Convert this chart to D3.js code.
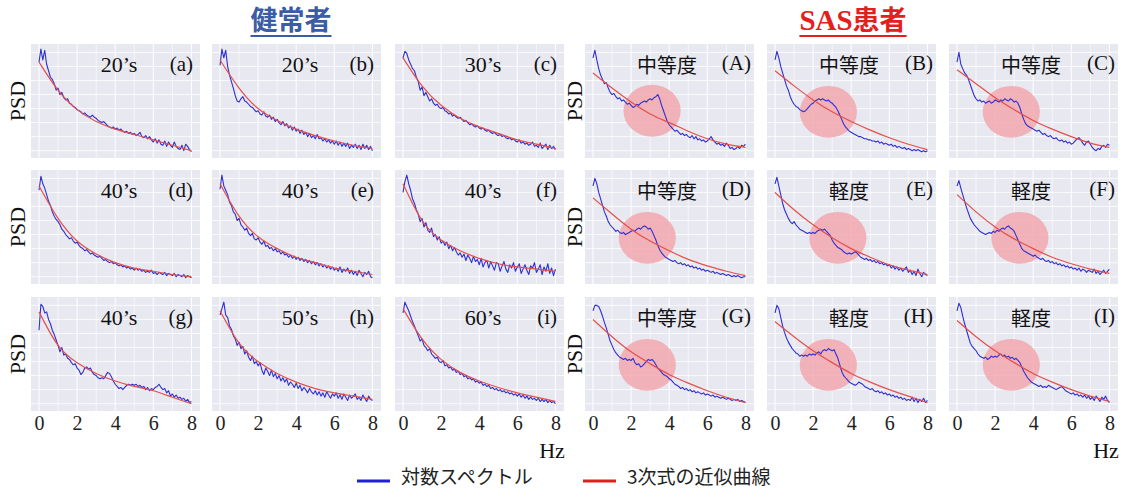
<!DOCTYPE html>
<html>
<head>
<meta charset="utf-8">
<script src="https://cdn.jsdelivr.net/npm/d3@7"></script>
<style>
body { margin: 0; background: #fff; }
</style>
</head>
<body>
<svg id="chart" width="1126" height="490"></svg>
<script>
// sampling grid of the spectra (Hz) and of the cubic fit
var freqs = d3.range(81).map(function (i) { return i / 10; });
var fitFreqs = [0, 1, 2, 3, 4, 5, 6, 7, 8];
var xTicks = [0, 2, 4, 6, 8];
var gridLevels = [4, 17, 30, 43, 56, 69, 82, 95];

var healthyLabels = ["(a)", "(b)", "(c)", "(d)", "(e)", "(f)", "(g)", "(h)", "(i)"];
var healthyAges = ["20’s", "20’s", "30’s", "40’s", "40’s", "40’s", "40’s", "50’s", "60’s"];
var sasLabels = ["(A)", "(B)", "(C)", "(D)", "(E)", "(F)", "(G)", "(H)", "(I)"];
var sasSeverity = ["中等度", "中等度", "中等度", "中等度", "軽度", "軽度", "中等度", "軽度", "軽度"];

// log spectra, 0..8 Hz every 0.1 Hz, in % of panel height
var spec_a = [86,98,88,97,84,78,72,70,66,60, 62,56,58,53,51,52,48,47,45,44, 42,41,40,38,39,37,36,35,37,35,
    34,32,31,30,31,29,27,26,25,26, 24,25,23,24,22,21,22,20,21,19, 20,18,19,21,17,16,18,15,17,14,
    12,15,11,14,10,9,13,8,12,9, 7,12,8,6,5,9,4,10,8,5, 3];
var spec_b = [83,98,90,97,82,74,68,62,55,50, 49,52,54,50,49,47,45,44,42,40, 41,38,37,40,36,35,37,33,35,31,
    33,30,28,31,27,29,25,27,23,26, 22,24,20,23,19,21,17,20,16,18, 15,19,15,16,13,15,12,14,11,13,
    10,13,9,12,8,11,8,11,6,9, 7,10,6,9,5,10,6,9,5,8, 4];
var spec_c = [90,96,94,88,84,80,78,72,68,60, 63,55,58,54,50,52,48,46,47,44, 43,44,41,40,38,39,36,37,35,34,
    35,33,31,32,30,28,29,27,26,27, 25,24,25,23,22,23,21,20,21,19, 18,19,17,18,16,15,16,14,15,13,
    12,14,11,12,10,11,9,10,12,8, 9,7,11,6,8,10,5,9,6,8, 5];
var spec_d = [84,97,90,86,80,74,70,64,60,57, 55,52,48,46,43,41,39,40,37,35, 36,33,31,30,28,29,27,25,26,24,
    23,22,23,21,19,20,18,17,18,16, 17,15,14,15,13,14,12,13,11,12, 10,12,10,11,9,10,8,9,8,10,
    7,8,6,8,7,6,8,5,7,6, 5,7,4,6,5,4,6,3,5,4, 3];
var spec_e = [85,98,88,84,80,73,70,64,62,56, 58,52,50,47,49,44,42,44,39,38, 40,36,34,37,32,33,30,31,28,30,
    27,28,25,27,24,25,22,24,21,23, 20,22,19,21,18,20,17,19,16,18, 15,17,14,16,13,15,12,14,11,13,
    10,12,9,13,8,11,9,12,7,10, 6,9,5,10,7,4,8,6,9,4, 3];
var spec_f = [82,92,98,90,84,76,72,66,62,55, 58,50,54,47,45,49,41,43,38,41, 35,37,33,36,30,33,28,31,27,24,
    26,22,25,19,24,21,17,23,18,20, 15,21,13,17,19,12,18,14,10,17, 16,9,14,18,11,8,15,12,17,9,
    13,16,7,11,15,10,6,14,12,17, 8,11,15,6,13,9,16,7,12,5, 11];
var spec_g = [72,96,94,88,89,82,78,72,68,63, 58,52,56,49,50,46,45,42,40,41, 37,35,31,33,37,38,36,37,33,31,
    30,28,27,28,27,30,33,32,29,25, 22,20,18,19,17,19,21,22,21,22, 21,22,20,21,19,20,17,19,16,18,
    17,19,20,22,19,17,18,14,16,11, 13,10,12,9,10,8,9,6,8,5, 6];
var spec_h = [86,92,98,86,84,76,73,67,64,58, 61,55,57,50,53,47,44,48,41,43, 39,42,35,31,37,34,30,35,29,32,
    27,30,25,28,24,27,21,24,22,19, 23,18,21,16,19,17,14,18,15,13, 16,12,15,11,14,10,15,12,9,13,
    11,14,9,12,8,13,10,7,12,9, 11,13,8,10,7,12,9,6,11,8, 7];
var spec_i = [88,98,94,90,85,80,76,71,67,62, 64,58,56,53,55,50,48,46,47,43, 42,44,39,40,37,38,35,36,33,34,
    31,32,29,30,27,28,26,27,24,25, 23,24,21,22,20,21,18,19,17,18, 16,17,15,16,14,15,13,14,12,13,
    11,13,10,12,9,11,8,10,8,9, 7,9,6,8,6,8,5,7,5,6, 4];

var spec_A = [90,97,88,80,74,70,66,67,62,58, 56,57,54,52,53,50,51,49,47,48, 46,44,45,47,46,48,49,50,49,51,
    52,51,53,54,56,52,46,41,36,31, 28,26,24,22,23,21,19,20,18,19, 17,16,18,15,17,14,15,13,14,12,
    13,15,17,14,12,10,11,9,10,8, 11,9,6,7,5,6,8,6,9,8, 10];
var spec_B = [88,96,90,82,76,70,64,60,54,50, 47,45,44,42,41,40,41,43,45,47, 48,50,51,52,51,52,51,50,51,49,
    48,46,44,41,37,33,29,26,24,22, 21,20,19,18,17,17,16,15,15,14, 14,13,13,12,13,11,12,10,11,10,
    9,10,8,9,7,8,7,6,7,5, 6,5,4,5,4,5,4,3,4,3, 4];
var spec_C = [86,95,84,80,76,74,70,65,60,55, 52,50,51,49,50,48,49,50,48,49, 51,50,49,51,50,52,51,50,52,51,
    49,50,48,44,38,33,29,27,26,25, 24,23,22,23,21,19,20,18,17,18, 16,15,16,14,13,14,12,13,11,12,
    10,11,13,15,16,14,11,9,12,13, 10,7,5,4,6,5,8,9,7,10, 9];
var spec_D = [88,95,90,82,76,70,64,60,55,52, 50,48,46,47,45,44,45,43,44,45, 46,47,46,48,49,48,50,51,50,48,
    49,46,42,38,33,29,26,24,22,21, 20,19,18,19,17,16,17,15,16,14, 15,13,14,12,13,11,12,10,11,9,
    10,9,8,9,7,8,7,6,7,6, 5,6,5,4,5,4,5,4,3,4, 4];
var spec_E = [90,96,88,80,72,66,62,58,55,53, 55,52,50,48,47,46,45,44,45,44, 45,44,46,47,48,47,48,46,44,42,
    38,35,33,31,30,29,27,26,25,26, 25,26,27,26,24,22,21,20,21,19, 20,18,19,17,18,16,17,15,16,14,
    15,12,14,11,13,10,12,9,11,13, 8,10,6,9,5,11,7,4,8,6, 5];
var spec_F = [88,93,86,80,74,68,63,58,55,52, 50,48,46,45,44,43,44,45,44,46, 45,47,46,48,49,48,50,51,49,48,
    46,42,38,34,30,28,27,26,25,24, 23,24,22,21,20,21,19,18,19,17, 18,16,17,15,16,14,15,13,14,12,
    13,11,12,10,12,9,11,10,8,10, 9,8,11,7,9,6,8,10,7,9, 11];
var spec_G = [90,95,95,94,90,85,79,74,68,62, 58,54,51,49,47,46,45,46,44,45, 44,46,42,40,41,38,39,41,43,45,
    44,45,43,40,37,35,33,31,30,29, 27,26,24,22,21,20,18,19,17,18, 16,17,15,16,14,15,14,13,14,12,
    13,12,11,12,10,11,10,9,10,9, 8,9,8,7,8,7,8,6,7,6, 5];
var spec_H = [88,95,92,84,76,70,65,61,58,55, 53,51,50,48,49,48,49,48,50,49, 50,49,51,52,50,53,54,53,55,54,
    53,54,50,46,40,34,30,28,26,24, 23,22,21,22,24,23,22,20,19,18, 17,18,16,15,16,14,15,13,14,12,
    13,11,12,10,11,9,10,8,9,7, 8,7,10,6,9,5,8,6,9,5, 7];
var spec_I = [90,97,93,85,78,72,66,60,57,55, 53,50,48,47,46,47,45,46,48,47, 48,47,49,50,48,49,47,48,46,47,
    45,46,44,42,38,34,31,28,26,24, 23,22,21,20,21,19,20,19,21,20, 19,18,17,18,19,20,18,16,15,14,
    13,14,12,13,11,12,10,12,9,11, 8,10,7,11,9,6,10,8,11,7, 5];

// cubic approximation curves at 0..8 Hz
var fit_a = [86, 60, 42, 31, 24, 19, 14, 9, 4];
var fit_b = [88, 62, 43, 32, 24, 18, 13, 9, 6];
var fit_c = [90, 64, 46, 34, 26, 20, 14, 10, 6];
var fit_d = [88, 58, 37, 25, 17, 12, 9, 6, 4];
var fit_e = [90, 60, 41, 30, 22, 17, 12, 9, 6];
var fit_f = [90, 56, 38, 28, 21, 16, 13, 11, 9];
var fit_g = [89, 58, 42, 32, 25, 20, 16, 10, 4];
var fit_h = [90, 60, 43, 32, 24, 18, 14, 11, 8];
var fit_i = [92, 64, 45, 33, 25, 19, 14, 10, 6];
var fit_A = [76, 62, 49, 38, 30, 22, 15, 10, 7];
var fit_B = [78, 64, 51, 40, 31, 23, 16, 10, 5];
var fit_C = [79, 66, 53, 42, 32, 24, 17, 11, 7];
var fit_D = [77, 62, 48, 37, 28, 20, 14, 9, 5];
var fit_E = [82, 66, 52, 40, 30, 22, 15, 10, 6];
var fit_F = [80, 64, 50, 39, 30, 22, 16, 11, 7];
var fit_G = [82, 66, 52, 41, 31, 23, 16, 10, 5];
var fit_H = [80, 66, 53, 42, 32, 24, 17, 11, 5];
var fit_I = [81, 66, 53, 42, 32, 24, 17, 11, 6];

// highlighted hump (SAS panels): centre in Hz / level, radii
var humpHz = [3.1, 2.8, 2.85, 2.85, 3.3, 3.3, 2.85, 2.8, 2.85];
var humpLevel = [41, 40, 40, 40, 40, 40, 40, 40, 40];
var humpRadiusHz = 1.5, humpRadiusLevel = 24;

var healthySpecs = [spec_a, spec_b, spec_c, spec_d, spec_e, spec_f, spec_g, spec_h, spec_i];
var healthyFits = [fit_a, fit_b, fit_c, fit_d, fit_e, fit_f, fit_g, fit_h, fit_i];
var sasSpecs = [spec_A, spec_B, spec_C, spec_D, spec_E, spec_F, spec_G, spec_H, spec_I];
var sasFits = [fit_A, fit_B, fit_C, fit_D, fit_E, fit_F, fit_G, fit_H, fit_I];

var svg = d3.select("#chart");
var serif = "'Liberation Serif', 'Times New Roman', serif";
var cjk = "'Noto Sans CJK JP', 'Noto Sans', sans-serif";

var groupCols = [[31, 212, 395], [585, 767, 949]];
var psdOffset = [6, 3];
var rowTop = [44, 170, 297];
var panelW = 169, panelH = 114;

var x = d3.scaleLinear().domain([-0.42, 8.45]).range([0, panelW]);
var y = d3.scaleLinear().domain([0, 100]).range([panelH - 3, 3]);

var specLine = d3.line()
    .x(function (d, i) { return x(freqs[i]); })
    .y(function (d) { return y(d); });
var fitLine = d3.line()
    .x(function (d, i) { return x(fitFreqs[i]); })
    .y(function (d) { return y(d); })
    .curve(d3.curveNatural);

var clipCount = 0;

function drawPanel(left, top, spec, fit, hump) {
    var g = svg.append("g").attr("transform", "translate(" + left + "," + top + ")");
    var id = "clip" + (clipCount++);
    g.append("clipPath").attr("id", id)
        .append("rect").attr("width", panelW).attr("height", panelH);

    g.append("rect")
        .attr("width", panelW).attr("height", panelH)
        .attr("fill", "#e8e8f1");

    g.selectAll(".gx").data(d3.range(0, 9)).enter()
        .append("line")
        .attr("x1", function (d) { return x(d); })
        .attr("x2", function (d) { return x(d); })
        .attr("y1", 0).attr("y2", panelH)
        .attr("stroke", "#fff")
        .attr("stroke-width", function (d) { return d % 2 ? 0.6 : 1; });

    g.selectAll(".gy").data(gridLevels).enter()
        .append("line")
        .attr("x1", 0).attr("x2", panelW)
        .attr("y1", function (d) { return y(d); })
        .attr("y2", function (d) { return y(d); })
        .attr("stroke", "#fff")
        .attr("stroke-width", 0.8);

    var inner = g.append("g").attr("clip-path", "url(#" + id + ")");

    if (hump) {
        inner.append("ellipse")
            .attr("cx", x(hump[0]))
            .attr("cy", y(hump[1]))
            .attr("rx", x(hump[0] + humpRadiusHz) - x(hump[0]))
            .attr("ry", y(0) - y(humpRadiusLevel))
            .attr("fill", "#f2a3aa")
            .attr("opacity", 0.8);
    }

    inner.append("path")
        .attr("d", specLine(spec))
        .attr("fill", "none")
        .attr("stroke", "#2f2fd2")
        .attr("stroke-width", 1.1)
        .attr("stroke-linejoin", "round");

    inner.append("path")
        .attr("d", fitLine(fit))
        .attr("fill", "none")
        .attr("stroke", "#e4504a")
        .attr("stroke-width", 1.2);

    return g;
}

// healthy group
healthySpecs.forEach(function (spec, k) {
    var r = Math.floor(k / 3), c = k % 3;
    var g = drawPanel(groupCols[0][c], rowTop[r], spec, healthyFits[k], null);
    g.append("text")
        .attr("x", 88).attr("y", 28)
        .attr("text-anchor", "middle")
        .attr("font-family", serif).attr("font-size", 22)
        .attr("fill", "#111")
        .text(healthyAges[k]);
    g.append("text")
        .attr("x", 162).attr("y", 27)
        .attr("text-anchor", "end")
        .attr("font-family", serif).attr("font-size", 21)
        .attr("fill", "#111")
        .text(healthyLabels[k]);
});

// SAS group
sasSpecs.forEach(function (spec, k) {
    var r = Math.floor(k / 3), c = k % 3;
    var g = drawPanel(groupCols[1][c], rowTop[r], spec, sasFits[k], [humpHz[k], humpLevel[k]]);
    g.append("text")
        .attr("x", 82).attr("y", 29)
        .attr("text-anchor", "middle")
        .attr("font-family", cjk).attr("font-size", 20)
        .attr("font-weight", 400)
        .attr("fill", "#111")
        .text(sasSeverity[k]);
    g.append("text")
        .attr("x", 166).attr("y", 26)
        .attr("text-anchor", "end")
        .attr("font-family", serif).attr("font-size", 21)
        .attr("fill", "#111")
        .text(sasLabels[k]);
});

// PSD labels
groupCols.forEach(function (cols, gi) {
    rowTop.forEach(function (top) {
        svg.append("text")
            .attr("transform", "translate(" + (cols[0] - psdOffset[gi]) + "," + (top + panelH / 2) + ") rotate(-90)")
            .attr("text-anchor", "middle")
            .attr("font-family", serif).attr("font-size", 22)
            .attr("fill", "#111")
            .text("PSD");
    });
});

// x axes under bottom row
groupCols.forEach(function (cols) {
    cols.forEach(function (left) {
        var axis = d3.axisBottom(x).tickValues(xTicks).tickSize(0).tickPadding(0);
        var ax = svg.append("g")
            .attr("transform", "translate(" + left + "," + (rowTop[2] + panelH + 19) + ")")
            .call(axis);
        ax.select(".domain").remove();
        ax.selectAll("text")
            .attr("font-family", serif).attr("font-size", 20)
            .attr("fill", "#222").attr("dy", 0);
    });
    svg.append("text")
        .attr("x", cols[2] + panelW - 12).attr("y", 458)
        .attr("text-anchor", "middle")
        .attr("font-family", serif).attr("font-size", 22)
        .attr("fill", "#111")
        .text("Hz");
});

// group titles
function title(cx, parts, color) {
    var t = svg.append("text")
        .attr("x", cx).attr("y", 30)
        .attr("text-anchor", "middle")
        .attr("font-weight", "bold")
        .attr("fill", color);
    parts.forEach(function (p) {
        t.append("tspan").attr("font-family", p[1]).attr("font-size", p[2]).text(p[0]);
    });
    var w = t.node().getComputedTextLength();
    svg.append("line")
        .attr("x1", cx - w / 2).attr("x2", cx + w / 2)
        .attr("y1", 36).attr("y2", 36)
        .attr("stroke", color).attr("stroke-width", 2);
}
title(291, [["健常者", cjk, 27]], "#3c5da5");
title(853, [["SAS", serif, 29], ["患者", cjk, 27]], "#e3201b");

// legend
var legend = [["対数スペクトル", "#2020d4", 357], ["3次式の近似曲線", "#dd2020", 583]];
legend.forEach(function (d) {
    svg.append("line")
        .attr("x1", d[2]).attr("x2", d[2] + 33)
        .attr("y1", 481).attr("y2", 481)
        .attr("stroke", d[1]).attr("stroke-width", 3);
    svg.append("text")
        .attr("x", d[2] + 44).attr("y", 484)
        .attr("font-family", cjk).attr("font-size", 19)
        .attr("fill", "#222")
        .text(d[0]);
});
</script>
</body>
</html>
